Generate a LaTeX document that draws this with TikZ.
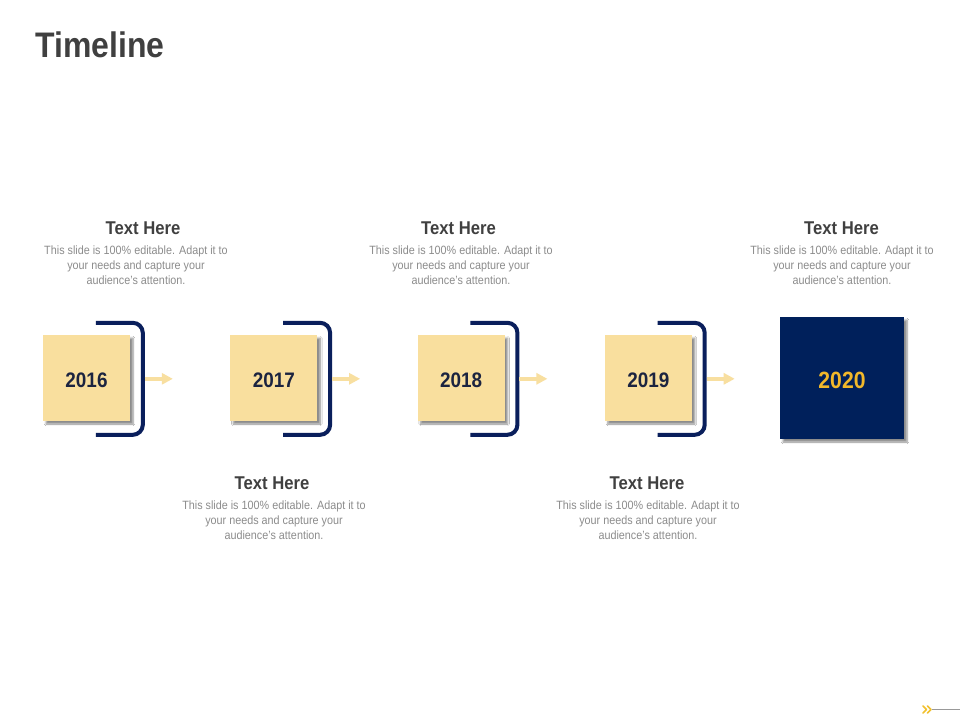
\documentclass[tikz,border=0pt]{standalone}
\usepackage{fontspec}
\setmainfont{Liberation Sans}[FakeStretch=0.9]
\usetikzlibrary{arrows.meta,shadows.blur,calc}
\definecolor{navy}{HTML}{0A1F5C}
\definecolor{navyfill}{HTML}{00205B}
\definecolor{boxyellow}{HTML}{F9DF9E}
\definecolor{arrowyellow}{HTML}{F8DFA0}
\definecolor{gold}{HTML}{F2B82A}
\definecolor{yeartext}{HTML}{1C2440}
\definecolor{headgray}{HTML}{404040}
\definecolor{bodygray}{HTML}{8C8C8C}
\definecolor{chev}{HTML}{F2C12E}
\tikzset{
  softshadow/.style={blur shadow={shadow xshift=3pt, shadow yshift=-3pt, shadow blur steps=6, shadow blur radius=1.8pt, shadow opacity=45}},
  ybox/.style={fill=boxyellow, minimum width=87pt, minimum height=86pt, inner sep=0pt, softshadow,
    text height=19pt, text depth=0pt,
    font=\fontsize{21}{21}\selectfont\bfseries, text=yeartext},
  nbox/.style={fill=navyfill, minimum width=124pt, minimum height=122pt, inner sep=0pt, softshadow,
    text height=20.8pt, text depth=0pt,
    font=\fontsize{23.5}{23.5}\selectfont\bfseries, text=gold},
  bracket/.style={draw=navy, line width=4pt, rounded corners=10pt},
  yarrow/.style={draw=arrowyellow, line width=3.5pt, -{Triangle[width=11pt,length=11pt]}},
  head/.style={anchor=base, inner sep=0pt, text=headgray, font=\fontsize{18.5}{18.5}\selectfont\bfseries},
  body/.style={anchor=base, inner sep=0pt, text=bodygray, font=\fontsize{12}{12}\selectfont},
  title/.style={anchor=base west, inner sep=0pt, text=headgray, font=\fontsize{35.5}{35.5}\selectfont\bfseries}
}
\begin{document}
\begin{tikzpicture}[x=1pt,y=-1pt]
\useasboundingbox[fill=white] (0,0) rectangle (960,720);
\node[title] (ttl) at (35.5,57.5) {Timeline};
% year boxes
\foreach \i/\yr in {0/2016,1/2017,2/2018,3/2019}{
  \node[ybox] (b\yr) at ({86.5+187.3*\i},378) {\yr};
  \coordinate (k\yr) at ($(b\yr.north west)+(53,-12)$);
  \draw[bracket] (k\yr) -- ++(47,0) -- ++(0,112) -- ++(-47,0);
  \coordinate (as\yr) at ($(b\yr.north west)+(102,44)$);
  \coordinate (ae\yr) at ($(b\yr.north west)+(130,44)$);
  \draw[yarrow] (as\yr) -- (ae\yr);
}
\node[nbox] (b2020) at (842,378) {2020};
% text blocks
\foreach \n/\hx/\bx/\y in {t1/143/136/234, t2/458.5/461/234, t3/841.5/842/234, t4/272/274/489, t5/647/648/489}{
  \node[head] (h\n) at (\hx,\y) {Text Here};
  \node[body] (la\n) at (\bx,\y+20) {This slide is 100\% editable. Adapt it to};
  \node[body] (lb\n) at (\bx,\y+35) {your needs and capture your};
  \node[body] (lc\n) at (\bx,\y+50) {audience’s attention.};
}
% footer
\coordinate (fa) at (932,709);
\coordinate (fb) at (960,709);
\draw[gray!80, line width=0.8pt] (fa) -- (fb);
\draw[chev, line width=1.6pt, line cap=round, line join=round] (923,706) -- (926.5,709.5) -- (923,713);
\draw[chev, line width=1.6pt, line cap=round, line join=round] (927.5,706) -- (931,709.5) -- (927.5,713);
\end{tikzpicture}
\end{document}
